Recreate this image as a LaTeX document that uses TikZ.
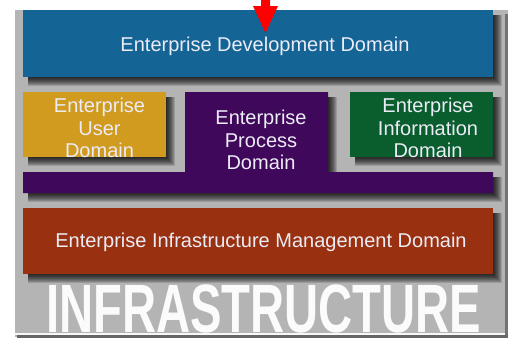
\documentclass[tikz,border=0pt]{standalone}
\usepackage{fontspec}
\setmainfont{Liberation Sans}
\definecolor{panelgray}{RGB}{180,180,180}
\definecolor{devblue}{RGB}{20,100,150}
\definecolor{usergold}{RGB}{208,155,30}
\definecolor{procpurple}{RGB}{64,8,90}
\definecolor{infogreen}{RGB}{10,94,46}
\definecolor{infrared}{RGB}{153,48,15}
\definecolor{labelwhite}{RGB}{236,236,246}
\newcommand\dropshade[4]{%
  \foreach \k in {0,...,8}{%
    \fill[black,opacity=0.14] ({#1+5},{#2+5}) rectangle ({#3+1+\k},{#4+1+\k});
  }}
\begin{document}
\begin{tikzpicture}[x=1pt,y=-1pt,
  boxtext/.style={text=labelwhite, font=\fontsize{20}{22.5}\selectfont, align=center, inner sep=0pt},
  domainbox/.style={inner sep=0pt, draw=none}]
\useasboundingbox (0,0) rectangle (511,340);
% panel
\fill[panelgray] (15,10) rectangle (508,337);
\fill[black!55] (505,14) rectangle (508,337);
\fill[white!90!panelgray] (15,332.5) rectangle (505,334.5);
\fill[black!60] (17,335) rectangle (508,338);
% shadows
\dropshade{23}{10}{493}{77}
\dropshade{23}{92}{166}{157}
\dropshade{185}{92}{328}{172}
\dropshade{23}{172}{493}{193}
\dropshade{350}{92}{493}{157}
\dropshade{23}{208}{493}{274}
% boxes
\node[domainbox, fill=devblue, minimum width=470pt, minimum height=67pt] (dev) at (258,43.5) {};
\node[domainbox, fill=usergold, minimum width=143pt, minimum height=65pt] (user) at (94.5,124.5) {};
\node[domainbox, fill=infogreen, minimum width=143pt, minimum height=65pt] (info) at (421.5,124.5) {};
\fill[procpurple] (185,92) -- (328,92) -- (328,172) -- (493,172) -- (493,193) -- (23,193) -- (23,172) -- (185,172) -- cycle;
\coordinate (proc) at (256.5,140);
\node[domainbox, fill=infrared, minimum width=470pt, minimum height=66pt] (infra) at (258,241) {};
% labels
\node[boxtext] (devlabel) at (265,46.5) {Enterprise Development Domain};
\node[boxtext] (userlabel) at (99.5,128) {Enterprise\\User\\Domain};
\node[boxtext] (proclabel) at (261,140) {Enterprise\\Process\\Domain};
\node[boxtext] (infolabel) at (428,128) {Enterprise\\Information\\Domain};
\node[boxtext] (infralabel) at (261,242.5) {Enterprise Infrastructure Management Domain};
\node[anchor=base west, inner sep=0pt, text=white!97!gray] (bigword) at (46,332) {\fontsize{68.4}{70}\selectfont\bfseries\scalebox{0.69}[1]{INFRASTRUCTURE}};
% red arrow
\coordinate (arrowstart) at (265.5,0);
\coordinate (arrowend) at (265.5,33);
\fill[red] (261,0) -- (270,0) -- (270,6) -- (278,6) -- (arrowend) -- (253,6) -- (261,6) -- cycle;
\end{tikzpicture}
\end{document}
